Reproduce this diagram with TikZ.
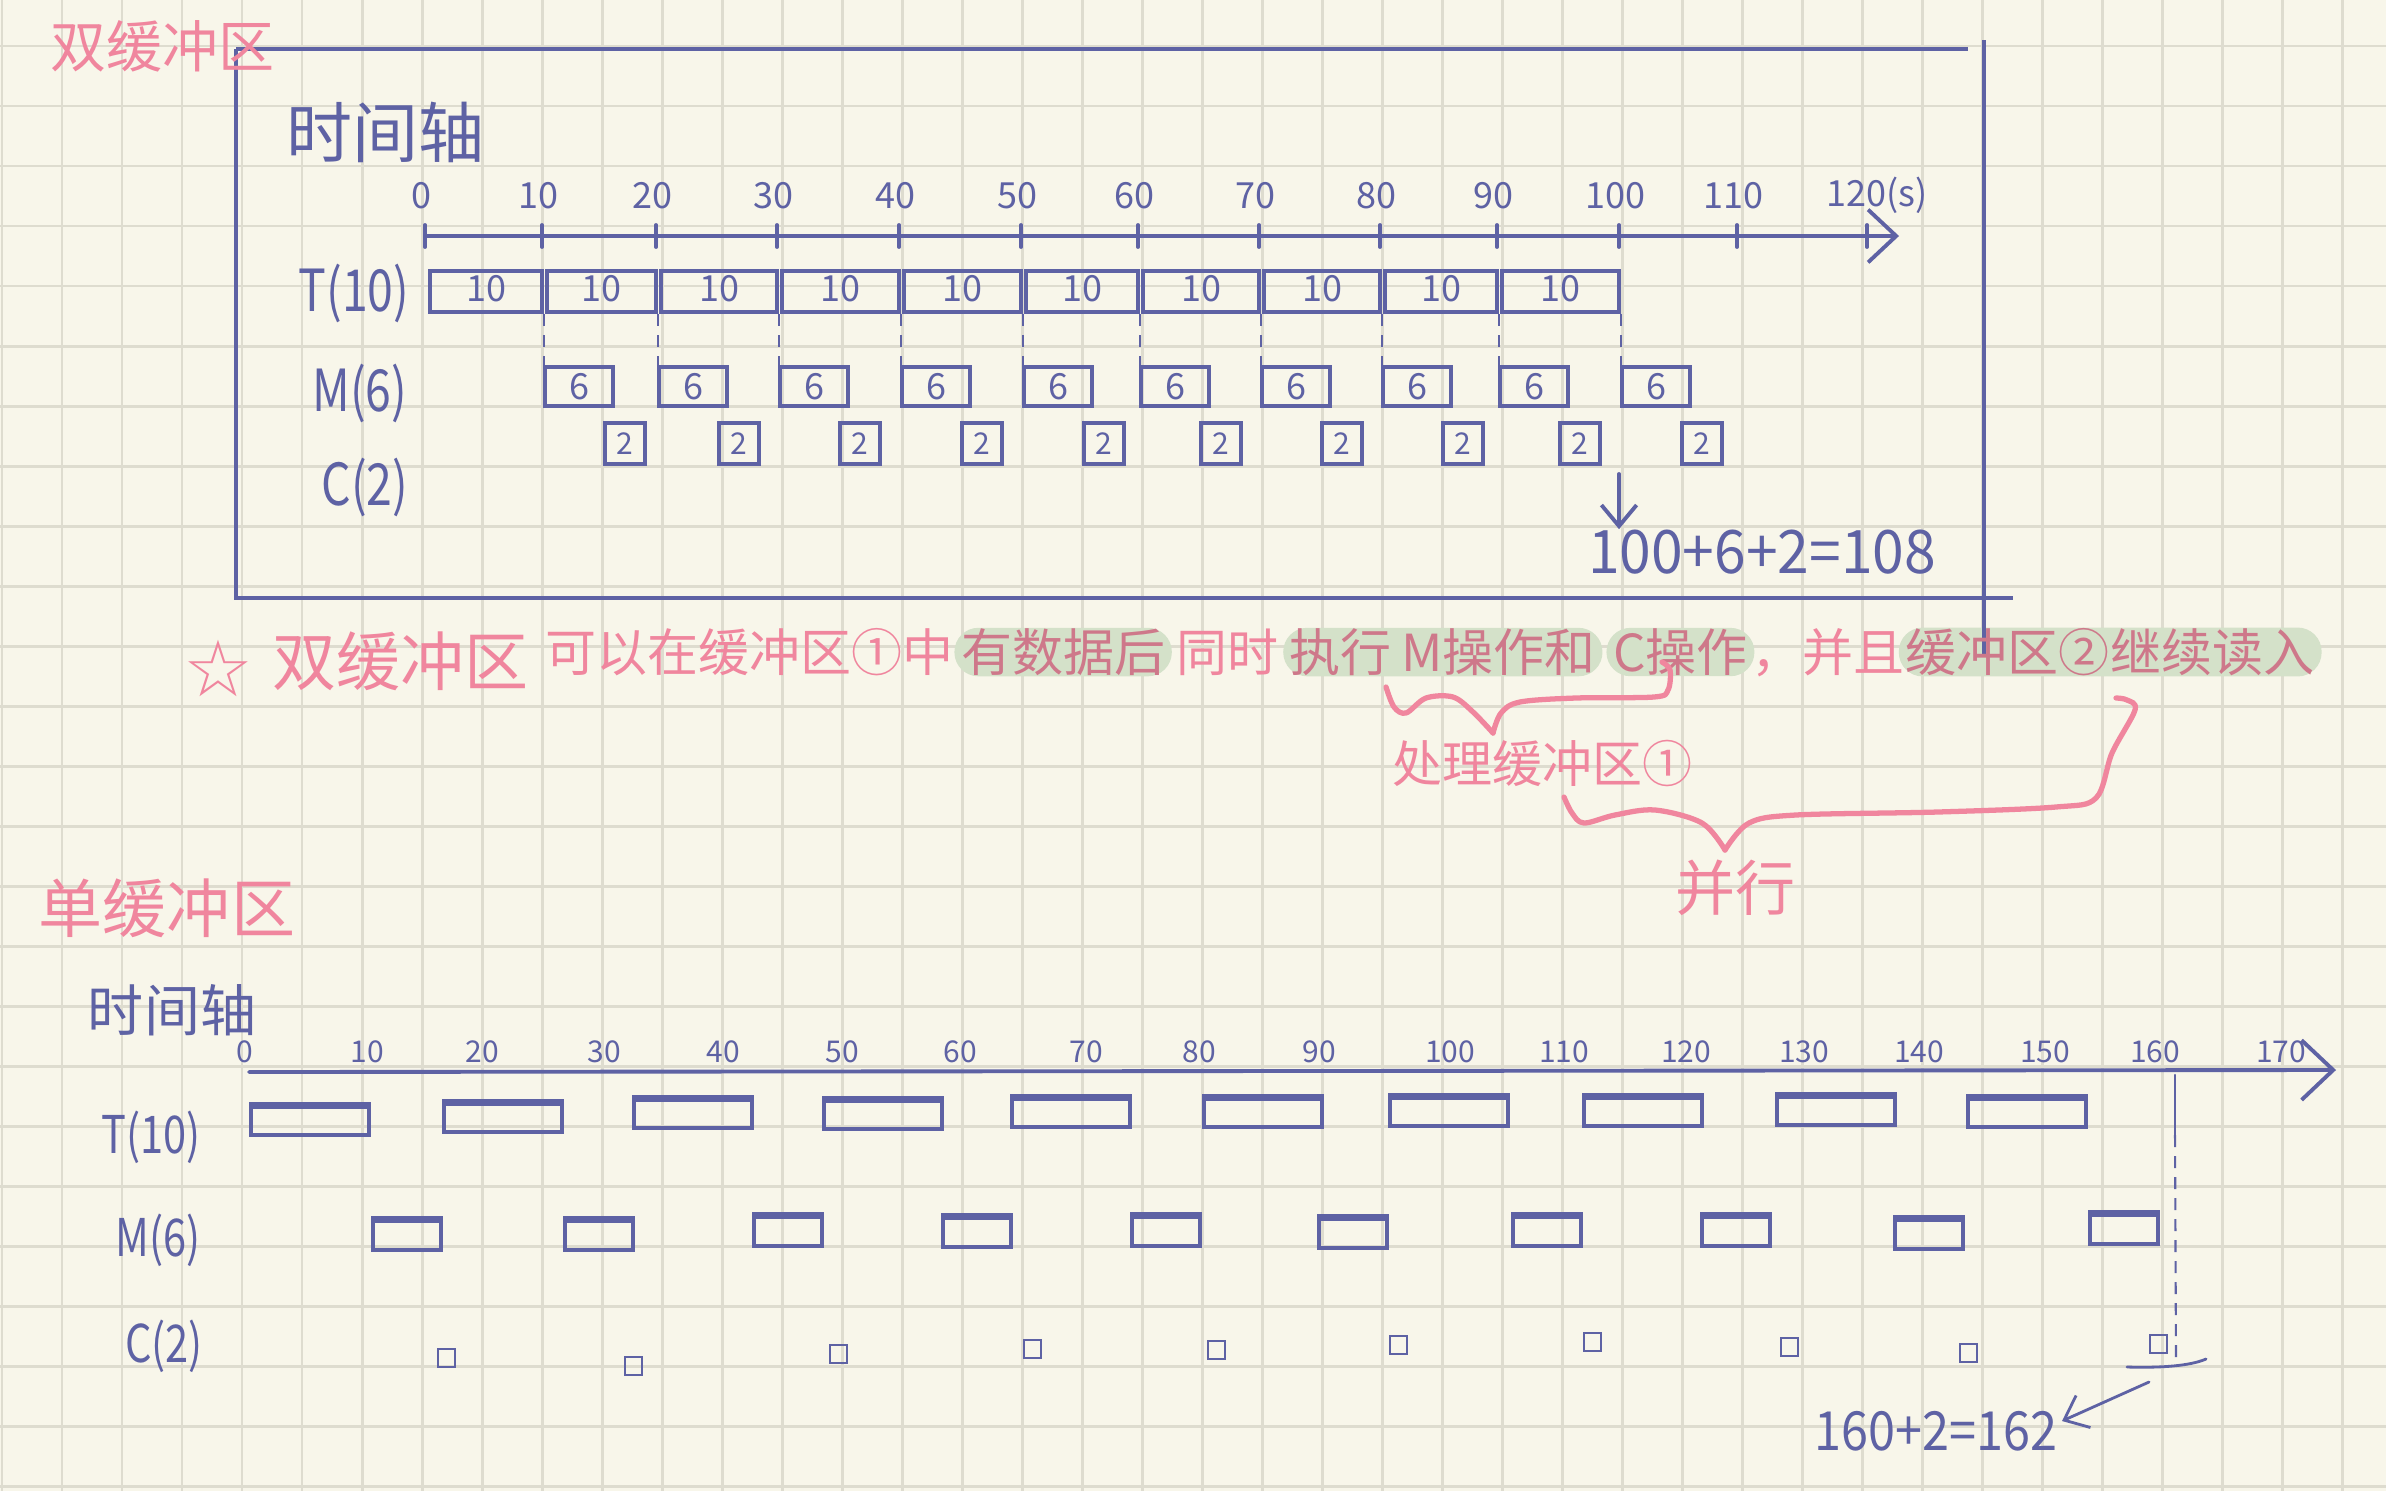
\documentclass[tikz,border=0pt]{standalone}
\usepackage{fontspec}
\setmainfont{Noto Sans CJK SC}
\newfontfamily\starfont{DejaVu Sans}
\usetikzlibrary{arrows.meta,fit,calc}
\definecolor{paper}{RGB}{248,246,234}
\definecolor{gridc}{RGB}{222,220,207}
\definecolor{ink}{RGB}{94,98,164}
\definecolor{pinkc}{RGB}{240,134,158}
\definecolor{hlc}{RGB}{212,225,201}
\definecolor{mauve}{RGB}{206,120,138}
\newcommand\fsz[1]{\fontsize{\dimexpr 0.28453pt*#1\relax}{\dimexpr 0.33pt*#1\relax}\selectfont}
\pgfdeclarelayer{paperlayer}
\pgfdeclarelayer{hllayer}
\pgfsetlayers{paperlayer,hllayer,main}
\begin{document}
\begin{tikzpicture}[x=0.1mm, y=-0.1mm,
  inkline/.style={draw=ink, line width=1.1pt, line cap=round, line join=round},
  pinkline/.style={draw=pinkc, line width=1.5pt, line cap=round, line join=round},
  frame/.style={draw=ink, line width=1.1pt},
  inktxt/.style={text=ink, inner sep=0pt},
  pinktxt/.style={text=pinkc, inner sep=0pt},
  seg/.style={inner sep=0pt, font=\fsz{51}},
  rowlbl/.style={inktxt, xscale=0.8},
  tboxA/.style={draw=ink, line width=1.3pt, inner sep=0pt},
  bbox/.style={draw=ink, line width=1.0pt, inner sep=0pt},
  sbox/.style={draw=ink, line width=0.7pt, inner sep=0pt},
  thicktop/.style={draw=ink, line width=2pt},
  gridline/.style={draw=gridc, line width=0.85pt},
  hlbox/.style={fill=hlc, draw=none, rounded corners=2.4mm, inner xsep=0.6mm, inner ysep=0pt},
  dashline/.style={draw=ink, line width=0.6pt, dash pattern=on 1.2mm off 0.9mm},
  barb/.style={-{Straight Barb[length=8pt,width=15pt]}},
  smallbarb/.style={-{Straight Barb[length=6pt,width=10pt]}}
]
\useasboundingbox (0,0) rectangle (2386,1491);
\begin{pgfonlayer}{paperlayer}
  \fill[paper] (0,0) rectangle (2386,1491);
  \foreach \k in {0,...,39} \draw[gridline] (2+60*\k,0) -- (2+60*\k,1491);
  \foreach \k in {0,...,24} \draw[gridline] (0,46+60*\k) -- (2386,46+60*\k);
\end{pgfonlayer}

% ===== double buffer frame =====
\draw[frame] (236,49) -- (1968,49);
\draw[frame] (236,49) -- (236,598) -- (2013,598);
\draw[frame, line width=0.9pt] (1984,40) -- (1984,655);

\node[pinktxt, font=\fsz{56}] (title2) at (162,46) {双缓冲区};
\node[inktxt, font=\fsz{66}] (axislbl1) at (385,132) {时间轴};

% axis
\coordinate (a1s) at (425,236);
\coordinate (a1e) at (1899,236);
\draw[inkline, barb] (a1s) -- (a1e);
\foreach \x/\l [count=\i from 0] in {425/0,542/10,656/20,777/30,899/40,1021/50,1138/60,1259/70,1380/80,1497/90,1619/100,1737/110} {
  \draw[inkline] (\x,225) -- (\x,247);
  \node[inktxt, font=\fsz{36}] (tl\i) at (\x-4,196) {\l};
}
\draw[inkline] (1867,225) -- (1867,247);
\node[inktxt, font=\fsz{36}] (tl12) at (1877,195) {120(s)};

% row labels
\node[rowlbl, font=\fsz{58}] (rT1) at (354,293) {T(10)};
\node[rowlbl, font=\fsz{58}] (rM1) at (360,393) {M(6)};
\node[rowlbl, font=\fsz{58}] (rC1) at (365,487) {C(2)};

% T boxes
\foreach \a/\b [count=\i] in {425/542,542/656,656/777,777/899,899/1021,1021/1138,1138/1259,1259/1380,1380/1497,1497/1619} {
  \coordinate (ta\i) at (\a+5,271);
  \coordinate (tb\i) at (\b,312);
  \node[tboxA, fit=(ta\i)(tb\i)] (T\i) {};
  \node[inktxt, font=\fsz{36}] (Tl\i) at ($(T\i.center)+(0,-3)$) {10};
}
% M and C boxes
\foreach \t [count=\i] in {542,656,777,899,1021,1138,1259,1380,1497,1619} {
  \coordinate (ma\i) at (\t+3,367);
  \coordinate (mb\i) at (\t+71,406);
  \node[tboxA, fit=(ma\i)(mb\i)] (M\i) {};
  \node[inktxt, font=\fsz{36}] (Ml\i) at (M\i.center) {6};
  \coordinate (ca\i) at (\t+63,423);
  \coordinate (cb\i) at (\t+103,464);
  \node[tboxA, fit=(ca\i)(cb\i)] (C\i) {};
  \node[inktxt, font=\fsz{30}] (Cl\i) at (C\i.center) {2};
  \draw[dashline] (T\i.south east) -- (T\i.south east |- M\i.south);
}

% result
\node[inktxt, font=\fsz{60}, xscale=0.95] (res1) at (1762,552) {100+6+2=108};
\coordinate (arr1s) at (1619,474);
\draw[inkline, smallbarb] (arr1s) -- (arr1s |- res1.north);

% ===== pink statement =====
\node[pinktxt, font=\starfont\fsz{78}] (star) at (218,668) {☆};
\node[pinktxt, font=\fsz{64}, anchor=west] (s0) at (272,661) {双缓冲区};
\node[seg, text=pinkc, anchor=west] (s1) at (545,652) {可以在缓冲区①中};
\node[seg, text=mauve, anchor=base west] (s2) at ($(s1.base east)+(6,0)$) {有数据后};
\node[seg, text=pinkc, anchor=base west] (s3) at ($(s2.base east)+(10,0)$) {同时};
\node[seg, text=mauve, anchor=base west] (s4) at ($(s3.base east)+(10,0)$) {执行};
\node[seg, text=mauve, anchor=base west] (s5) at ($(s4.base east)+(8,0)$) {M操作和};
\node[seg, text=mauve, anchor=base west] (s6) at ($(s5.base east)+(16,0)$) {C操作};
\node[seg, text=pinkc, anchor=base west] (s7) at ($(s6.base east)+(2,0)$) {，并且};
\node[seg, text=mauve, anchor=base west] (s8) at ($(s7.base east)+(0,0)$) {缓冲区②};
\node[seg, text=mauve, anchor=base west] (s9) at ($(s8.base east)+(0,0)$) {继续读入};
\begin{pgfonlayer}{hllayer}
  \node[hlbox, fit=(s2)] (h1) {};
  \node[hlbox, fit=(s4)(s5)] (h2) {};
  \node[hlbox, fit=(s6)] (h3) {};
  \node[hlbox, fit=(s8)(s9)] (h4) {};
\end{pgfonlayer}

% braces
\draw[pinkline] plot[smooth, tension=0.55] coordinates {(1386,687) (1394,707) (1406,713) (1426,698) (1453,697) (1473,712) (1493,733)};
\draw[pinkline] plot[smooth, tension=0.55] coordinates {(1493,733) (1501,713) (1520,702) (1576,698) (1654,697) (1668,690) (1670,670) (1662,662)};
\node[pinktxt, font=\fsz{50}] (proc) at (1542,763) {处理缓冲区①};
\draw[pinkline] plot[smooth, tension=0.55] coordinates {(1564,797) (1572,813) (1584,823) (1615,815) (1655,810) (1702,823) (1725,850)};
\draw[pinkline] plot[smooth, tension=0.55] coordinates {(1725,850) (1749,823) (1796,815) (1938,812) (2056,807) (2096,798) (2112,753) (2135,710) (2127,700) (2116,698)};
\node[pinktxt, font=\fsz{60}] (para) at (1735,888) {并行};

% ===== single buffer =====
\node[pinktxt, font=\fsz{64}] (title1) at (167,908) {单缓冲区};
\node[inktxt, font=\fsz{56}] (axislbl2) at (172,1010) {时间轴};
\coordinate (a2s) at (249,1072);
\coordinate (a2e) at (2336,1070);
\draw[inkline, -{Straight Barb[length=9pt,width=17pt]}] (a2s) -- (a2e);
\foreach \x/\l [count=\i from 0] in {245/0,367/10,482/20,604/30,723/40,842/50,960/60,1086/70,1199/80,1319/90,1450/100,1564/110,1686/120,1804/130,1919/140,2045/150,2155/160,2281/170} {
  \node[inktxt, font=\fsz{30}] (bl\i) at (\x,1052) {\l};
}
\node[rowlbl, font=\fsz{52}] (rT2) at (151,1137) {T(10)};
\node[rowlbl, font=\fsz{52}] (rM2) at (158,1240) {M(6)};
\node[rowlbl, font=\fsz{52}] (rC2) at (164,1346) {C(2)};

\foreach \x/\y [count=\i] in {251/1107,444/1104,634/1100,824/1101,1012/1099,1204/1099,1390/1098,1584/1098,1777/1097,1968/1099} {
  \coordinate (bta\i) at (\x,\y);
  \coordinate (btb\i) at (\x+118,\y+28);
  \node[bbox, fit=(bta\i)(btb\i)] (BT\i) {};
  \draw[thicktop] (BT\i.north west) -- (BT\i.north east);
}
\foreach \x/\y [count=\i] in {373/1221,565/1221,754/1217,943/1218,1132/1217,1319/1219,1513/1217,1702/1217,1895/1220,2090/1215} {
  \coordinate (bma\i) at (\x,\y);
  \coordinate (bmb\i) at (\x+68,\y+29);
  \node[bbox, fit=(bma\i)(bmb\i)] (BM\i) {};
  \draw[thicktop] (BM\i.north west) -- (BM\i.north east);
}
\foreach \x/\y [count=\i] in {438/1349,625/1357,830/1345,1024/1340,1208/1341,1390/1336,1584/1333,1781/1338,1960/1344,2150/1335} {
  \coordinate (bca\i) at (\x,\y);
  \coordinate (bcb\i) at (\x+17,\y+18);
  \node[sbox, fit=(bca\i)(bcb\i)] (BC\i) {};
}

% end marker at 160
\coordinate (d1) at (2175,1075);
\coordinate (d2) at (2175,1135);
\coordinate (d3) at (2176,1365);
\draw[inkline, line width=0.7pt] (d1) -- (d2);
\draw[dashline] (d2) -- (d3);
\coordinate (base1) at (2127,1367);
\coordinate (base2) at (2206,1359);
\draw[inkline, line width=0.8pt] (base1) .. controls (2160,1368) and (2190,1366) .. (base2);
\node[inktxt, font=\fsz{54}, xscale=0.9] (res2) at (1936,1431) {160+2=162};
\coordinate (arr2s) at (2149,1382);
\draw[inkline, line width=0.8pt, smallbarb] (arr2s) -- ($(res2.east)+(4,-10)$);
\end{tikzpicture}
\end{document}
